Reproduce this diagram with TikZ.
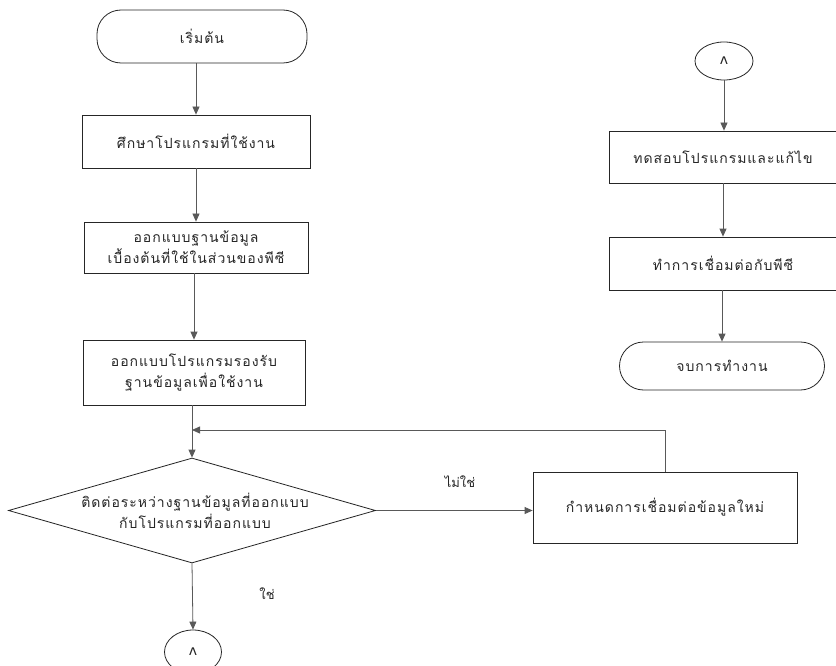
\documentclass[tikz,border=0pt]{standalone}
\usepackage{fontspec}
\newfontfamily\thaifont[Script=Thai,LetterSpace=7]{Loma}
\newfontfamily\thailbl[Script=Thai]{Loma}
\newfontfamily\symfont{DejaVu Sans}
\usetikzlibrary{shapes.geometric,arrows.meta}
\begin{document}
\begin{tikzpicture}[x=1pt,y=-1pt,
  every node/.style={font=\thaifont\fontsize{14}{21}\selectfont, text=black!85},
  procbox/.style={draw=black!85, line width=0.8pt, rectangle, inner sep=0pt, align=center},
  termbox/.style={draw=black!85, line width=0.8pt, rectangle, rounded corners=24pt, inner sep=0pt},
  conn/.style={draw=black!85, line width=0.8pt, ellipse, inner sep=0pt},
  flow/.style={draw=black!65, line width=0.8pt, -{Triangle[length=8pt,width=7pt]}},
  plain/.style={draw=black!65, line width=0.8pt},
  lbl/.style={font=\thailbl\fontsize{13}{15}\selectfont}
]
\useasboundingbox (0,0) rectangle (836,666);
\fill[white] (0,0) rectangle (836,666);

% left column
\node[termbox, minimum width=210pt, minimum height=53pt] (start) at (202,36.5) {เริ่มต้น};
\node[procbox, minimum width=228pt, minimum height=53pt] (b1) at (196,141.5) {ศึกษาโปรแกรมที่ใช้งาน};
\node[procbox, minimum width=224pt, minimum height=51pt] (b2) at (196,247.5) {ออกแบบฐานข้อมูล\\เบื้องต้นที่ใช้ในส่วนของพีซี};
\node[procbox, minimum width=222pt, minimum height=65pt] (b3) at (194,372.5) {ออกแบบโปรแกรมรองรับ\\ฐานข้อมูลเพื่อใช้งาน};
\node[diamond, draw=black!85, line width=0.8pt, inner sep=0pt, aspect=3.5,
      minimum width=367pt, minimum height=105pt] (dia) at (192,510.5) {};
\node[align=center] (diatext) at (195,510.5) {ติดต่อระหว่างฐานข้อมูลที่ออกแบบ\\กับโปรแกรมที่ออกแบบ};
\node[procbox, minimum width=264pt, minimum height=71pt] (b4) at (665,507.5) {กำหนดการเชื่อมต่อข้อมูลใหม่};
\node[conn, minimum width=57pt, minimum height=44pt] (c2) at (193,652) {\symfont ʌ};
\coordinate (join) at (dia.north |- 0,430);
\coordinate (up) at (b4.north |- 0,430);

% right column
\node[conn, minimum width=58pt, minimum height=38pt] (c1) at (724,61) {\symfont ʌ};
\node[procbox, minimum width=228pt, minimum height=52pt] (b5) at (723,157) {ทดสอบโปรแกรมและแก้ไข};
\node[procbox, minimum width=228pt, minimum height=53pt] (b6) at (723,263.5) {ทำการเชื่อมต่อกับพีซี};
\node[termbox, minimum width=205pt, minimum height=48pt] (end) at (722,366) {จบการทำงาน};

% labels
\node[lbl] (no) at (460,482) {ไม่ใช่};
\node[lbl] (yes) at (267,594) {ใช่};

% connectors
\draw[flow] (start.south -| b1.north) -- (b1.north);
\draw[flow] (b1) -- (b2);
\draw[flow] (b2.south -| b3.north) -- (b3.north);
\draw[flow] (b3.south -| dia.north) -- (dia.north);
\draw[flow] (dia.east) -- (dia.east -| b4.west);
\draw[plain] (b4.north) -- (up);
\draw[flow] (up) -- (join);
\draw[flow] (dia.south) -- (c2.north);
\draw[flow] (c1.south) -- (c1.south |- b5.north);
\draw[flow] (b5) -- (b6);
\draw[flow] (b6.south -| end.north) -- (end.north);
\end{tikzpicture}
\end{document}
